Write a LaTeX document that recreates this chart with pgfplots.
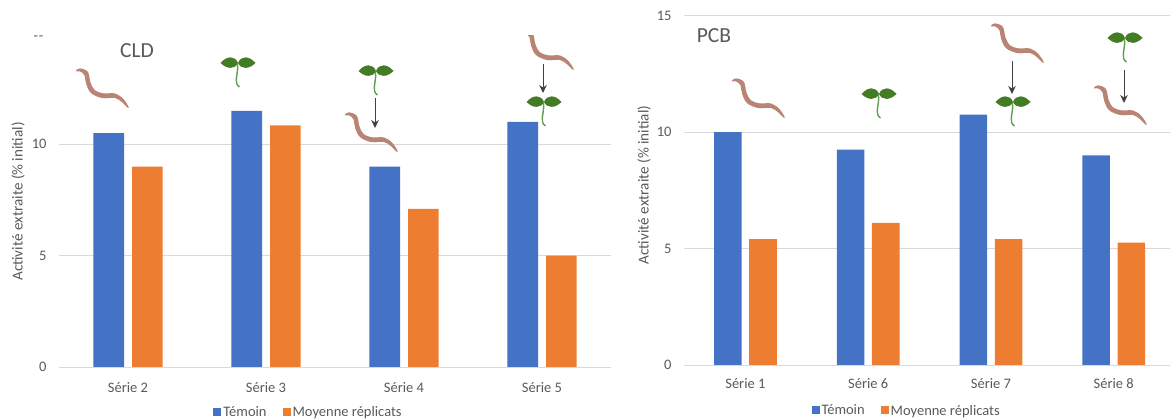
\documentclass[border=0pt]{standalone}
\usepackage{fontspec}
\setmainfont{Carlito}
\usepackage{pgfplots}
\pgfplotsset{compat=1.18}
\usetikzlibrary{arrows.meta}
\definecolor{txt}{HTML}{595959}
\definecolor{gridc}{HTML}{D9D9D9}
\definecolor{cblue}{HTML}{4472C4}
\definecolor{corange}{HTML}{ED7D31}
\definecolor{wormc}{HTML}{B98474}
\definecolor{leafc}{HTML}{437C24}
\definecolor{stemc}{HTML}{5F9C55}
\newcommand{\tf}{\fontsize{14.5}{16}\selectfont}
\newcommand{\worm}[2]{%
  \begin{scope}[shift={(#1,#2)}]
    \fill[wormc] plot[smooth cycle,tension=0.6] coordinates {(0,-0.5) (4,-2.6) (11.8,0.8) (14.5,11.5) (18.8,19.2) (27.3,22.3) (39.5,22.6) (48,28.6) (52.6,36) (51.6,36.6) (46,31.2) (38.7,26.9) (26.5,27.1) (15.2,22.3) (10.2,13) (8.3,4) (4,0.5) (0,0.5)};
  \end{scope}}
\newcommand{\seedling}[2]{%
  \begin{scope}[shift={(#1,#2)}]
    \fill[leafc] (0,0) .. controls (-3,-7.5) and (-11,-7.5) .. (-17.5,0) .. controls (-11,6.5) and (-3,6.5) .. (0,0);
    \fill[leafc] (0,0) .. controls (3,-7.5) and (11,-7.5) .. (17.5,0) .. controls (11,6.5) and (3,6.5) .. (0,0);
    \draw[stemc,line width=1.4pt] (-0.5,1) .. controls (0.5,8) and (-2.5,14) .. (-1.5,20) .. controls (-1,22) and (0,23) .. (1.5,24);
  \end{scope}}
\newcommand{\darrow}[3]{\draw[black!75,line width=0.8pt,-{Stealth[length=8pt,width=7.5pt]}] (#1,#2) -- (#1,#3);}
\pgfplotsset{
  mychart/.style={
    scale only axis,
    anchor=south west,
    ybar,
    ymin=0,
    xmin=-0.5,
    xtick={0,1,2,3},
    ytick={0,5,10,15},
    axis x line*=bottom,
    axis y line*=left,
    y axis line style={draw=none},
    x axis line style={gridc,line width=0.8pt,-},
    major tick length=0pt,
    ymajorgrids,
    grid style={gridc,line width=0.7pt},
    tick label style={font=\tf,text=txt},
    /pgf/number format/assume math mode=true,
    label style={font=\fontsize{15.2}{17}\selectfont,text=txt},
    legend style={draw=none,fill=none,font=\tf,text=txt,legend columns=2,anchor=center,
      /tikz/every even column/.append style={column sep=14pt},
      inner sep=0pt},
    legend cell align=left,
  },
  sq/.style={legend image code/.code={\fill[#1] (0pt,-3.5pt) rectangle (8pt,4.5pt);}},
}
\begin{document}
\begin{tikzpicture}
\useasboundingbox (0,0) rectangle (1170pt,419pt);
% Left chart
\begin{axis}[mychart,
  at={(59pt,52pt)}, width=552pt, height=331pt,
  xmax=3.5, ymax=14.86,
  bar width=30.6pt,
  xticklabels={Série 2,Série 3,Série 4,Série 5},
  xticklabel style={yshift=-12pt},
  yticklabel style={xshift=-9pt},
  ylabel={Activité extraite (\% initial)},
  y label style={at={(axis description cs:-0.074,0.50)},anchor=center},
  legend style={at={(axis description cs:0.452,-0.136)}},
]
\addplot[draw=none,fill=cblue,bar shift=-19.3pt,sq=cblue] coordinates {(0,10.5) (1,11.5) (2,9) (3,11)};
\addplot[draw=none,fill=corange,bar shift=19.3pt,sq=corange] coordinates {(0,9) (1,10.85) (2,7.1) (3,5)};
\legend{Témoin,Moyenne réplicats}
\end{axis}
% Right chart
\begin{axis}[mychart,
  at={(684pt,54pt)}, width=486pt, height=349.3pt,
  xmax=3.458, ymax=15,
  bar width=27.6pt,
  xticklabels={Série 1,Série 6,Série 7,Série 8},
  xticklabel style={yshift=-10pt},
  yticklabel style={xshift=-9pt},
  ylabel={Activité extraite (\% initial)},
  y label style={at={(axis description cs:-0.082,0.515)},anchor=center},
  legend style={at={(axis description cs:0.458,-0.131)}},
]
\addplot[draw=none,fill=cblue,bar shift=-17.6pt,sq=cblue] coordinates {(0,10) (1,9.25) (2,10.75) (3,9.0)};
\addplot[draw=none,fill=corange,bar shift=17.6pt,sq=corange] coordinates {(0,5.4) (1,6.1) (2,5.4) (3,5.25)};
\legend{Témoin,Moyenne réplicats}
\end{axis}
% Decorations, in reference pixel coordinates
\begin{scope}[x=1pt,y=-1pt,yshift=419pt]
  \node[font=\fontsize{21.5}{24}\selectfont,text=txt,anchor=center] at (137,51) {CLD};
  \node[font=\fontsize{21.5}{24}\selectfont,text=txt,anchor=center] at (714,36) {PCB};
  \node[font=\tf,text=txt,anchor=center,inner sep=0pt] at (38.5,38) {{-}\kern1pt{-}};
  \worm{76}{71}
  \worm{345}{115}
  \begin{scope}
    \clip (500,36) rectangle (600,80);
    \worm{521}{33}
  \end{scope}
  \worm{732}{81}
  \worm{991}{26}
  \worm{1094}{88}
  \seedling{238}{63}
  \seedling{376}{71}
  \seedling{544}{102}
  \seedling{879}{94}
  \seedling{1013}{102}
  \seedling{1125}{38}
  \darrow{375}{98}{128}
  \darrow{543}{64}{93}
  \darrow{1012}{61}{94}
  \darrow{1124}{70}{103}
\end{scope}
\end{tikzpicture}
\end{document}
